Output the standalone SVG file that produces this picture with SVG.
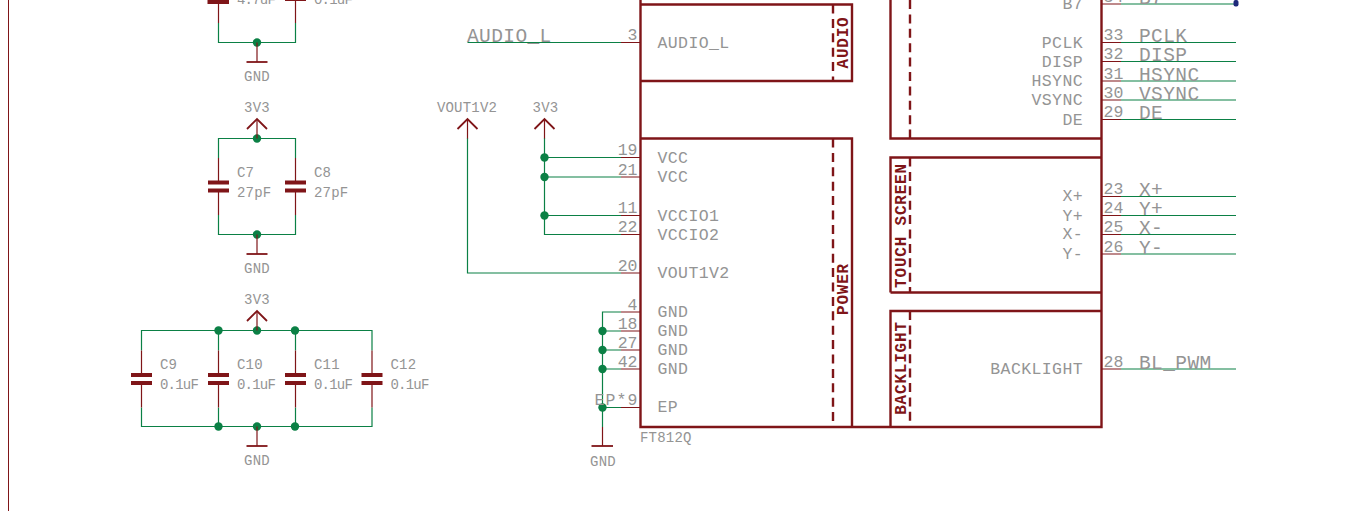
<svg xmlns="http://www.w3.org/2000/svg" width="1351" height="511" viewBox="0 0 1351 511">
<style>
text{font-family:"Liberation Mono","DejaVu Sans Mono",monospace;fill:#949494;stroke:none}
.s{font-size:14px;letter-spacing:.2px}
.t{font-size:16.5px;letter-spacing:.4px}
.p{font-size:16.5px}
.n{font-size:19.5px;letter-spacing:.4px}
.e{text-anchor:end}
.m{text-anchor:middle}
.b{font-size:16px;font-weight:700;letter-spacing:.8px;fill:#7f1518;text-anchor:middle}
.w{fill:none;stroke:#0b8045;stroke-width:1.2}
.r{fill:none;stroke:#7f1518;stroke-width:1.2}
.a{fill:none;stroke:#7f1518;stroke-width:1.8}
.o{fill:none;stroke:#7f1518;stroke-width:2.4}
.d{fill:none;stroke:#7f1518;stroke-width:2.4;stroke-dasharray:9 5.4}
.c{fill:#7f1518}
.j{fill:#0b8045}
</style>
<defs>
<g id="cap"><path class="r" d="M0 -28.5V-4M0 4V28.5"/><rect class="c" x="-10.5" y="-6" width="21" height="4"/><rect class="c" x="-10.5" y="2" width="21" height="4"/></g>
<g id="vcc"><path class="a" d="M-10 10L0 0L10 10"/><path class="r" d="M0 0V19.5"/></g>
<g id="gnd"><path class="r" d="M0 0V19.5"/><path class="a" d="M-10.5 19.5H10.5"/></g>
</defs>

<g id="frame"><path d="M8.5 0V511" fill="none" stroke="#7f1518" stroke-width="1"/></g>

<g id="connectors">
<path class="w" d="M218.5 23V42.5H295.5V23"/>
<path class="w" d="M218.5 158V138.5H295.5V158M218.5 215V234.5H295.5V215"/>
<path class="w" d="M141.5 350.5V330.5H372V350.5M141.5 407.5V426.5H372V407.5M218.5 330.5V350.5M295.5 330.5V350.5M218.5 426.5V407.5M295.5 426.5V407.5"/>
<path class="w" d="M467.5 42.5H621"/>
<path class="w" d="M467.5 138V273H621"/>
<path class="w" d="M544.5 138V234.5H621M544.5 157.5H621M544.5 177H621M544.5 215.5H621"/>
<path class="w" d="M621 312H602.5V427M602.5 331H621M602.5 350H621M602.5 369H621M602.5 407.5H621"/>
<path class="w" d="M1121 4H1236M1121 42.5H1236M1121 61.5H1236M1121 81H1236M1121 100H1236M1121 119.5H1236M1121 196.5H1236M1121 215.5H1236M1121 234.5H1236M1121 254H1236M1121 369H1236"/>
<circle class="j" cx="257" cy="42.5" r="4.2"/>
<circle class="j" cx="257" cy="138.5" r="4.2"/>
<circle class="j" cx="257" cy="234.5" r="4.2"/>
<circle class="j" cx="218.5" cy="330.5" r="4.2"/><circle class="j" cx="257" cy="330.5" r="4.2"/><circle class="j" cx="295" cy="330.5" r="4.2"/>
<circle class="j" cx="218.5" cy="426.5" r="4.2"/><circle class="j" cx="257" cy="426.5" r="4.2"/><circle class="j" cx="295" cy="426.5" r="4.2"/>
<circle class="j" cx="544.5" cy="157.5" r="4.2"/><circle class="j" cx="544.5" cy="177" r="4.2"/><circle class="j" cx="544.5" cy="215.5" r="4.2"/>
<circle class="j" cx="602.5" cy="331" r="4.2"/><circle class="j" cx="602.5" cy="350" r="4.2"/><circle class="j" cx="602.5" cy="369" r="4.2"/><circle class="j" cx="602.5" cy="407.5" r="4.2"/>
<rect x="1233.5" y="0" width="5" height="6.5" rx="2" fill="#1d2a7a"/>
</g>

<g id="C_top1"><path class="r" d="M218.5 2V23"/><rect class="c" x="207.5" y="-2" width="21.5" height="6"/><text class="s" x="237" y="4" textLength="39">4.7uF</text></g>
<g id="C_top2"><path class="r" d="M295.5 0V23"/><rect class="c" x="285" y="-2" width="21" height="3"/><text class="s" x="314" y="4" textLength="39">0.1uF</text></g>
<g id="GND1"><use href="#gnd" x="257" y="42.5"/><text class="s m" x="257" y="81">GND</text></g>
<g id="V3V3_1"><use href="#vcc" x="257" y="119"/><text class="s m" x="257" y="111.5">3V3</text></g>
<g id="C7"><use href="#cap" x="218.5" y="186.5"/><text class="s" x="237" y="177">C7</text><text class="s" x="237" y="196.5">27pF</text></g>
<g id="C8"><use href="#cap" x="295.5" y="186.5"/><text class="s" x="314" y="177">C8</text><text class="s" x="314" y="196.5">27pF</text></g>
<g id="GND2"><use href="#gnd" x="257" y="234.5"/><text class="s m" x="257" y="273">GND</text></g>
<g id="V3V3_2"><use href="#vcc" x="257" y="311"/><text class="s m" x="257" y="304">3V3</text></g>
<g id="C9"><use href="#cap" x="141.5" y="379"/><text class="s" x="160" y="369">C9</text><text class="s" x="160" y="388.5" textLength="39">0.1uF</text></g>
<g id="C10"><use href="#cap" x="218.5" y="379"/><text class="s" x="237" y="369">C10</text><text class="s" x="237" y="388.5" textLength="39">0.1uF</text></g>
<g id="C11"><use href="#cap" x="295.5" y="379"/><text class="s" x="314" y="369">C11</text><text class="s" x="314" y="388.5" textLength="39">0.1uF</text></g>
<g id="C12"><use href="#cap" x="372" y="379"/><text class="s" x="390.5" y="369">C12</text><text class="s" x="390.5" y="388.5" textLength="39">0.1uF</text></g>
<g id="GND3"><use href="#gnd" x="257" y="426.5"/><text class="s m" x="257" y="465">GND</text></g>
<g id="AUDIO_L_label"><text class="n" x="467" y="42">AUDIO_L</text></g>
<g id="VOUT1V2_supply"><use href="#vcc" x="467.5" y="119"/><text class="s m" x="467" y="111.5">VOUT1V2</text></g>
<g id="V3V3_3"><use href="#vcc" x="544.5" y="119"/><text class="s m" x="545.5" y="111.5">3V3</text></g>
<g id="GND4"><path class="r" d="M602.5 427V446"/><path class="a" d="M591.5 446H613"/><text class="s m" x="603" y="465.5">GND</text></g>

<g id="FT812Q">
<path class="o" d="M640.5 0V427H1101.5V0M640.5 4.5H852V81H640.5M640.5 138.5H852V427M890.5 0V138.5H1101.5M890.5 427V311H1101.5M890.5 292.5V157.5H1101.5M890.5 292.5H1101.5"/>
<path class="d" d="M833 4.5V81M833 138.5V427M910 0V138.5M910 157.5V292.5M910 311V427"/>
<text class="b" transform="translate(848 42.5) rotate(-90)">AUDIO</text>
<text class="b" transform="translate(848 289) rotate(-90)">POWER</text>
<text class="b" transform="translate(906 225.5) rotate(-90)">TOUCH SCREEN</text>
<text class="b" transform="translate(906 368) rotate(-90)">BACKLIGHT</text>
<path class="r" d="M621 42.5H640M621 157.5H640M621 177H640M621 215.5H640M621 234.5H640M621 273H640M621 312H640M621 331H640M621 350H640M621 369H640M621 407.5H640M1102 4H1121M1102 42.5H1121M1102 61.5H1121M1102 81H1121M1102 100H1121M1102 119.5H1121M1102 196.5H1121M1102 215.5H1121M1102 234.5H1121M1102 254H1121M1102 369H1121"/>
<g>
<text class="p e" x="637.5" y="40">3</text><text class="p e" x="637.5" y="155">19</text><text class="p e" x="637.5" y="174.5">21</text><text class="p e" x="637.5" y="213">11</text><text class="p e" x="637.5" y="232">22</text><text class="p e" x="637.5" y="270.5">20</text><text class="p e" x="637.5" y="309.5">4</text><text class="p e" x="637.5" y="328.5">18</text><text class="p e" x="637.5" y="347.5">27</text><text class="p e" x="637.5" y="366.5">42</text><text class="p e" x="637.5" y="405" textLength="43">EP*9</text>
</g>
<g>
<text class="t" x="657.5" y="48">AUDIO_L</text><text class="t" x="657.5" y="163">VCC</text><text class="t" x="657.5" y="182">VCC</text><text class="t" x="657.5" y="221">VCCIO1</text><text class="t" x="657.5" y="240">VCCIO2</text><text class="t" x="657.5" y="278">VOUT1V2</text><text class="t" x="657.5" y="317">GND</text><text class="t" x="657.5" y="336">GND</text><text class="t" x="657.5" y="355">GND</text><text class="t" x="657.5" y="374">GND</text><text class="t" x="657.5" y="412">EP</text>
</g>
<g>
<text class="t e" x="1083" y="9">B7</text><text class="t e" x="1083" y="48">PCLK</text><text class="t e" x="1083" y="67">DISP</text><text class="t e" x="1083" y="86">HSYNC</text><text class="t e" x="1083" y="105">VSYNC</text><text class="t e" x="1083" y="125">DE</text><text class="t e" x="1083" y="201">X+</text><text class="t e" x="1083" y="220.5">Y+</text><text class="t e" x="1083" y="239">X-</text><text class="t e" x="1083" y="258.5">Y-</text><text class="t e" x="1083" y="374">BACKLIGHT</text>
</g>
<g>
<text class="p" x="1103.5" y="1.5">34</text><text class="p" x="1103.5" y="40">33</text><text class="p" x="1103.5" y="59">32</text><text class="p" x="1103.5" y="78.5">31</text><text class="p" x="1103.5" y="97.5">30</text><text class="p" x="1103.5" y="117">29</text><text class="p" x="1103.5" y="194">23</text><text class="p" x="1103.5" y="213">24</text><text class="p" x="1103.5" y="232">25</text><text class="p" x="1103.5" y="251.5">26</text><text class="p" x="1103.5" y="366.5">28</text>
</g>
<text class="s" x="640" y="442">FT812Q</text>
</g>

<g id="net_labels">
<text class="n" x="1139" y="4">B7</text><text class="n" x="1139" y="42">PCLK</text><text class="n" x="1139" y="61">DISP</text><text class="n" x="1139" y="80.5">HSYNC</text><text class="n" x="1139" y="99.5">VSYNC</text><text class="n" x="1139" y="119">DE</text><text class="n" x="1139" y="196">X+</text><text class="n" x="1139" y="215">Y+</text><text class="n" x="1139" y="234">X-</text><text class="n" x="1139" y="253.5">Y-</text><text class="n" x="1139" y="368.5">BL_PWM</text>
</g>
</svg>
